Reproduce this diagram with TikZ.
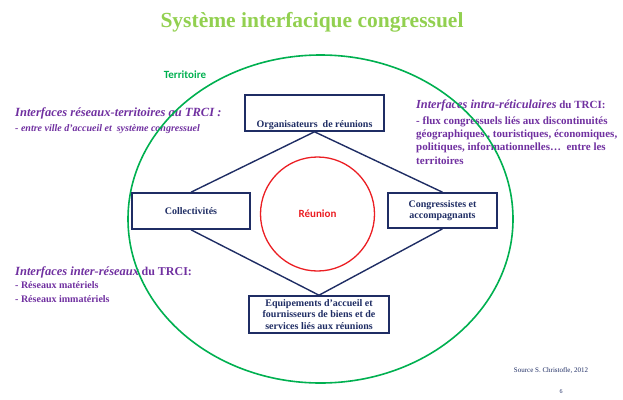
\documentclass[tikz,border=0pt]{standalone}
\usepackage{fontspec}
\setmainfont{Liberation Serif}
\newfontfamily\carlito{Carlito}
\usetikzlibrary{positioning}
\definecolor{my_green}{RGB}{0,176,80}
\definecolor{my_lightgreen}{RGB}{146,208,80}
\definecolor{my_purple}{RGB}{112,48,160}
\definecolor{my_navy}{RGB}{31,45,100}
\definecolor{my_red}{RGB}{235,30,35}
\tikzset{
  actbox/.style = {draw=my_navy, line width=1.6pt, text=my_navy, align=center,
  inner sep=2pt, font=\bfseries\fontsize{10}{11.5}\selectfont},
  iface/.style = {text=my_purple, align=left, anchor=north west, inner sep=0pt,
  font=\bfseries\fontsize{11}{13.3}\selectfont}
}

\begin{document}
\begin{tikzpicture}[x=1pt,y=-1pt,
        link/.style={my_navy, line width=1.4pt},
        terr/.style={my_green, line width=1.6pt},
        meet/.style={circle, draw=my_red, line width=1.3pt, text=my_red,
          minimum size=114pt, font=\carlito\bfseries\fontsize{11}{13}\selectfont}]
        \useasboundingbox (0,0) rectangle (623,399);
        \node [text=my_lightgreen, font=\bfseries\fontsize{21.5}{24}\selectfont] (title) at (312,22) {Système interfacique congressuel};
        \node [text=my_green, font=\carlito\bfseries\fontsize{11}{13}\selectfont] (terr_lbl) at (185,75) {Territoire};
        \node [iface, font=\bfseries\itshape\fontsize{10}{15}\selectfont] (if_terr) at (15,107) {{\fontsize{12.5}{15}\selectfont Interfaces réseaux-territoires au TRCI :}\\
          - entre ville d'accueil et\ \ système congressuel};
        \node [iface] (if_intra) at (416,99.5) {{\itshape\fontsize{12.3}{13.3}\selectfont Interfaces intra-réticulaires} du TRCI:\\[2.5pt]
          - flux congressuels liés aux discontinuités\\
          géographiques , touristiques, économiques,\\
          politiques, informationnelles\dots\ \ entre les\\
          territoires};
        \node [iface, font=\bfseries\fontsize{10}{13.5}\selectfont] (if_inter) at (15,266) {{\itshape\fontsize{12.5}{13.5}\selectfont Interfaces inter-réseaux} {\fontsize{12}{13.5}\selectfont du TRCI:}\\
          - Réseaux matériels\\
          - Réseaux immatériels};
        \draw [terr] (320.5,219) ellipse [x radius=192.5pt, y radius=164pt];
        \node [actbox, minimum width=139pt, minimum height=36pt, text height=30pt, text depth=2pt] (org) at (314.5,113) {Organisateurs\ \ de réunions};
        \node [actbox, minimum width=118pt, minimum height=36pt] (col) at (191,211) {Collectivités};
        \node [actbox, minimum width=109pt, minimum height=35pt] (cong) at (442.5,210.5) {Congressistes et\\accompagnants};
        \node [actbox, minimum width=140pt, minimum height=37pt] (equip) at (319,314.5) {Equipements d'accueil et\\fournisseurs de biens et de\\services liés aux réunions};
        \node [meet] (reunion) at (317.5,214) {Réunion};
        \draw [link] (org.south) -- (col.north);
        \draw [link] (org.south) -- (cong.north);
        \draw [link] (col.south) -- (equip.north);
        \draw [link] (cong.south) -- (equip.north);
        \node [text=my_navy, font=\fontsize{7}{8}\selectfont] (source) at (551,371) {Source S. Christofle, 2012};
        \node [text=my_navy, font=\fontsize{6}{7}\selectfont] (page) at (561,392) {6};
\end{tikzpicture}
\end{document}
